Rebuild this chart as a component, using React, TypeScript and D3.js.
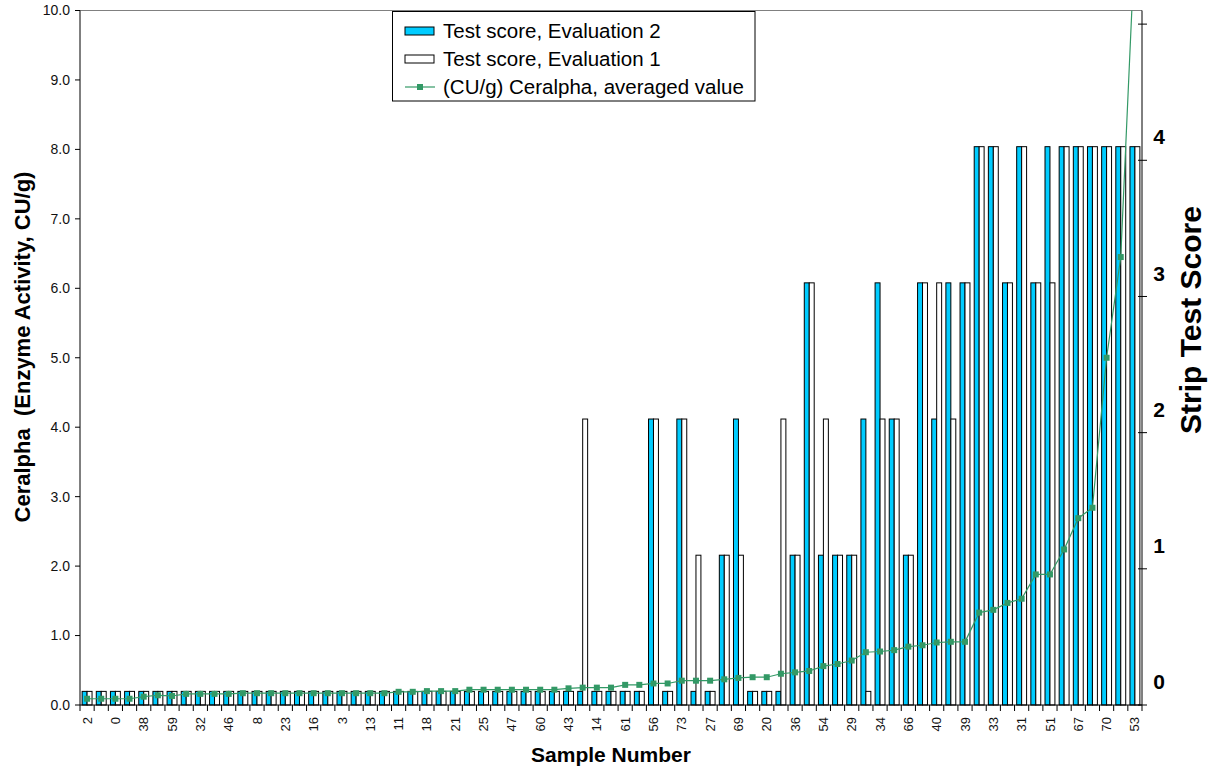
import React from "react";
import * as d3 from "d3";

// Sample numbers, printed under every second category on the x axis
const sampleLabels = [
  "2", "0", "38", "59", "32", "46", "8", "23", "16", "3", "13", "11", "18",
  "21", "25", "47", "60", "43", "14", "61", "56", "73", "27", "69", "20",
  "36", "54", "29", "34", "66", "40", "39", "33", "31", "51", "67", "70", "53",
];

// Strip test scores (0-4), second evaluation
const evaluation2 = [
  0, 0, 0, 0, 0, 0, 0, 0, 0, 0, 0, 0, 0, 0, 0, 0, 0, 0, 0, 0,
  0, 0, 0, 0, 0, 0, 0, 0, 0, 0, 0, 0, 0, 0, 0, 0, 0, 0, 0, 0,
  2, 0, 2, 0, 0, 1, 2, 0, 0, 0, 1, 3, 1, 1, 1, 2, 3, 2, 1, 3,
  2, 3, 3, 4, 4, 3, 4, 3, 4, 4, 4, 4, 4, 4, 4,
];

// Strip test scores (0-4), first evaluation
const evaluation1 = [
  0, 0, 0, 0, 0, 0, 0, 0, 0, 0, 0, 0, 0, 0, 0, 0, 0, 0, 0, 0,
  0, 0, 0, 0, 0, 0, 0, 0, 0, 0, 0, 0, 0, 0, 0, 2, 0, 0, 0, 0,
  2, 0, 2, 1, 0, 1, 1, 0, 0, 2, 1, 3, 2, 1, 1, 0, 2, 2, 1, 3,
  3, 2, 3, 4, 4, 3, 4, 3, 3, 4, 4, 4, 4, 4, 4,
];

// Ceralpha activity (CU/g), averaged value per sample
const ceralpha = [
  0.09, 0.09, 0.09, 0.09, 0.12, 0.14, 0.13, 0.16, 0.16, 0.16,
  0.16, 0.17, 0.17, 0.17, 0.17, 0.17, 0.17, 0.17, 0.17, 0.17,
  0.17, 0.17, 0.19, 0.19, 0.2, 0.2, 0.2, 0.22, 0.22, 0.22,
  0.22, 0.22, 0.22, 0.22, 0.24, 0.25, 0.25, 0.25, 0.29, 0.29,
  0.31, 0.31, 0.35, 0.35, 0.35, 0.37, 0.39, 0.4, 0.4, 0.45,
  0.47, 0.49, 0.56, 0.59, 0.64, 0.76, 0.77, 0.79, 0.84, 0.86,
  0.9, 0.91, 0.91, 1.33, 1.37, 1.47, 1.53, 1.88, 1.88, 2.24,
  2.69, 2.84, 5.0, 6.45, 11.0,
];

const activityTicks = d3.range(0, 10.5, 1);
const scoreTicks = [-0.1, 0.9, 1.9, 2.9, 3.9, 4.9];
const scoreLabels = [0, 1, 2, 3, 4];
const seriesKeys = ["evaluation2", "evaluation1"];

const W = 1214;
const H = 771;
const plot = { left: 80, right: 1142, top: 10.5, bottom: 705 };
const FONT = "'Liberation Sans', Arial, Helvetica, sans-serif";
const BLUE = "#00CCFF";
const GREEN = "#339966";

export default function App() {
  const categories = d3.range(ceralpha.length);

  const x = d3
    .scaleBand<number>()
    .domain(categories)
    .range([plot.left, plot.right])
    .paddingInner(0.3)
    .paddingOuter(0.15);
  const xSub = d3
    .scaleBand<string>()
    .domain(seriesKeys)
    .range([0, x.bandwidth()]);
  const yLeft = d3.scaleLinear().domain([0, 10]).range([plot.bottom, plot.top]);
  const yRight = d3.scaleLinear().domain([-0.1, 5]).range([plot.bottom, plot.top]);

  const center = (i: number) => (x(i) ?? 0) + x.bandwidth() / 2;
  const line = d3
    .line<number>()
    .x((_, i) => center(i))
    .y((d) => yLeft(d));

  const boundaries = d3.range(categories.length + 1).map(
    (i) => plot.left + i * x.step()
  );

  const series = [
    { key: "evaluation2", values: evaluation2, fill: BLUE },
    { key: "evaluation1", values: evaluation1, fill: "#FFFFFF" },
  ];

  return (
    <svg
      width={W}
      height={H}
      style={{ position: "absolute", left: 0, top: 0, background: "#fff" }}
      fontFamily={FONT}
    >
      <defs>
        <clipPath id="plot-clip">
          <rect
            x={plot.left}
            y={plot.top}
            width={plot.right - plot.left}
            height={plot.bottom - plot.top}
          />
        </clipPath>
      </defs>

      {/* plot frame: grey top edge */}
      <line x1={plot.left} x2={plot.right} y1={plot.top} y2={plot.top} stroke="#808080" strokeWidth={1} />

      {/* bars: strip test scores on the secondary axis */}
      {series.map((s) =>
        s.values.map((v, i) => (
          <rect
            key={s.key + i}
            x={(x(i) ?? 0) + (xSub(s.key) ?? 0)}
            y={yRight(v)}
            width={xSub.bandwidth()}
            height={plot.bottom - yRight(v)}
            fill={s.fill}
            stroke="#000"
            strokeWidth={1}
          />
        ))
      )}

      {/* averaged Ceralpha activity */}
      <g clipPath="url(#plot-clip)">
        <path d={line(ceralpha) ?? ""} fill="none" stroke={GREEN} strokeWidth={1.2} />
        {ceralpha.map((v, i) => (
          <rect key={i} x={center(i) - 3} y={yLeft(v) - 3} width={6} height={6} fill={GREEN} />
        ))}
      </g>

      {/* left axis */}
      <line x1={plot.left} x2={plot.left} y1={plot.top} y2={plot.bottom} stroke="#000" />
      {activityTicks.map((t) => (
        <g key={t}>
          <line x1={plot.left - 5} x2={plot.left} y1={yLeft(t)} y2={yLeft(t)} stroke="#000" />
          <text x={plot.left - 10} y={yLeft(t)} dy="0.35em" textAnchor="end" fontSize={14} fill="#111">
            {d3.format(".1f")(t)}
          </text>
        </g>
      ))}
      <text
        transform={`translate(22, 347) rotate(-90)`}
        textAnchor="middle"
        dy="0.35em"
        fontSize={22}
        fontWeight="bold"
        style={{ whiteSpace: "pre" }}
      >
        {"Ceralpha  (Enzyme Activity, CU/g)"}
      </text>

      {/* right axis: strip test score */}
      <line x1={plot.right} x2={plot.right} y1={plot.top} y2={plot.bottom} stroke="#000" />
      {scoreTicks.map((t) => (
        <line key={t} x1={plot.right - 4} x2={plot.right + 5} y1={yRight(t)} y2={yRight(t)} stroke="#000" />
      ))}
      {scoreLabels.map((s) => (
        <text key={s} x={1159} y={yRight(s + 0.07)} dy="0.35em" textAnchor="middle" fontSize={21} fontWeight="bold">
          {s}
        </text>
      ))}
      <text
        transform={`translate(1190, 320) rotate(-90)`}
        textAnchor="middle"
        dy="0.35em"
        fontSize={30}
        fontWeight="bold"
      >
        Strip Test Score
      </text>

      {/* bottom axis */}
      <line x1={plot.left} x2={plot.right} y1={plot.bottom} y2={plot.bottom} stroke="#000" />
      {boundaries.map((b, i) => (
        <line key={i} x1={b} x2={b} y1={plot.bottom} y2={plot.bottom + 6} stroke="#000" />
      ))}
      {sampleLabels.map((lab, j) => (
        <text
          key={j}
          transform={`translate(${center(j * 2)}, ${plot.bottom + 12}) rotate(-90)`}
          textAnchor="end"
          dy="0.35em"
          fontSize={13}
          fill="#111"
        >
          {lab}
        </text>
      ))}
      <text x={611} y={762} textAnchor="middle" fontSize={21} fontWeight="bold">
        Sample Number
      </text>

      {/* legend */}
      <g>
        <rect x={392.5} y={11.5} width={362.5} height={89.5} fill="#fff" stroke="#000" strokeWidth={1} />
        <rect x={405} y={27} width={29} height={8} fill={BLUE} stroke="#000" />
        <text x={443} y={31} dy="0.35em" fontSize={20.5}>Test score, Evaluation 2</text>
        <rect x={405} y={55} width={29} height={8} fill="#fff" stroke="#000" />
        <text x={443} y={59} dy="0.35em" fontSize={20.5}>Test score, Evaluation 1</text>
        <line x1={405} x2={435} y1={87} y2={87} stroke={GREEN} strokeWidth={1.2} />
        <rect x={417} y={84} width={6} height={6} fill={GREEN} />
        <text x={443} y={87} dy="0.35em" fontSize={20.5}>(CU/g) Ceralpha, averaged value</text>
      </g>
    </svg>
  );
}
